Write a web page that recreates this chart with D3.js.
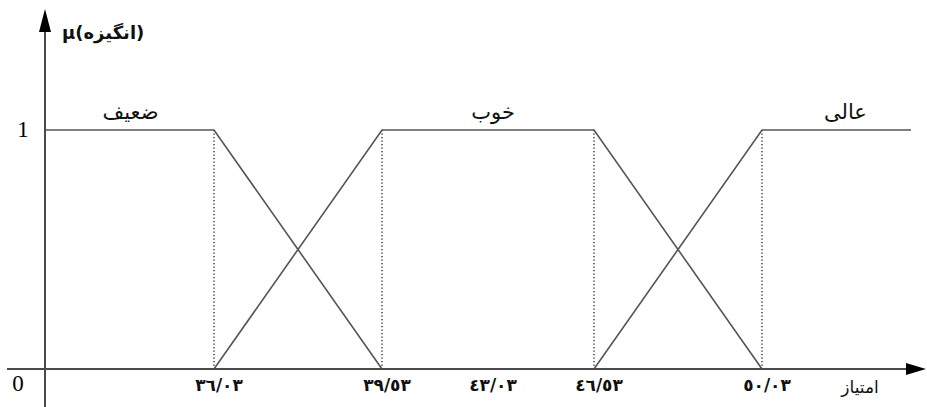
<!DOCTYPE html>
<html>
<head>
<meta charset="utf-8">
<script src="https://cdn.jsdelivr.net/npm/d3@7"></script>
<style>
  html, body { margin: 0; padding: 0; background: #fff; }
  svg { display: block; }
</style>
</head>
<body>
<svg id="chart" width="927" height="407"></svg>
<script>
// ---- data ----
const breakpoints = [36.03, 39.53, 43.03, 46.53, 50.03];
const tickLabels = ["٣٦/٠٣", "٣٩/٥٣", "٤٣/٠٣", "٤٦/٥٣", "٥٠/٠٣"];
const dottedAt = [36.03, 39.53, 46.53, 50.03];
const xMin = 32.53, xMax = 53.1;
const weakX = [xMin, 36.03, 39.53];
const weakY = [1, 1, 0];
const goodX = [36.03, 39.53, 46.53, 50.03];
const goodY = [0, 1, 1, 0];
const highX = [46.53, 50.03, xMax];
const highY = [0, 1, 1];
const setNames = ["ضعیف", "خوب", "عالی"];
const setLabelAt = [34.3, 43.2, 51.75];
const yTicks = [0, 1];
const yTitle = "μ(انگیزه)";
const xTitle = "امتیاز";

// ---- layout ----
const W = 927, H = 407;
const x0 = 45, yBase = 369, yTop = 130;
const svg = d3.select("#chart");

// schematic (piecewise linear) x scale, as in the original drawing
const x = d3.scaleLinear()
  .domain([xMin, 36.03, 39.53, 46.53, 50.03, xMax])
  .range([x0, 214, 382, 594, 762, 911]);
const y = d3.scaleLinear().domain([0, 1]).range([yBase, yTop]);

const axisColor = "#4a4a4a";
const lineColor = "#555";

// dotted verticals
svg.append("g").selectAll("line").data(dottedAt).join("line")
  .attr("x1", d => x(d)).attr("x2", d => x(d))
  .attr("y1", y(1)).attr("y2", y(0))
  .attr("stroke", "#222").attr("stroke-width", 1.3)
  .attr("stroke-dasharray", "1.3,2.2");

// membership functions
const line = d3.line().x(d => x(d[0])).y(d => y(d[1]));
const series = [[weakX, weakY], [goodX, goodY], [highX, highY]];
svg.append("g").selectAll("path").data(series).join("path")
  .attr("d", s => line(d3.zip(s[0], s[1])))
  .attr("fill", "none").attr("stroke", lineColor).attr("stroke-width", 1.6);

// axes
svg.append("line").attr("x1", x0).attr("x2", x0).attr("y1", H).attr("y2", 30)
  .attr("stroke", axisColor).attr("stroke-width", 2);
svg.append("path").attr("d", `M${x0},9 L${x0 - 6},32 L${x0 + 6},32 Z`).attr("fill", "#000");
svg.append("line").attr("x1", 7).attr("x2", 908).attr("y1", yBase).attr("y2", yBase)
  .attr("stroke", axisColor).attr("stroke-width", 2);
svg.append("path").attr("d", `M926,${yBase} L906,${yBase - 6} L906,${yBase + 6} Z`).attr("fill", "#000");

// y tick labels
svg.append("g").selectAll("text").data(yTicks).join("text")
  .attr("x", d => d === 0 ? 18 : 23)
  .attr("y", d => d === 0 ? y(d) + 22 : y(d) + 7)
  .attr("text-anchor", "middle")
  .attr("font-family", "Liberation Serif, serif").attr("font-size", 23)
  .text(d => d);

// x tick labels
svg.append("g").selectAll("text").data(breakpoints).join("text")
  .attr("x", (d, i) => x(d) + 5)
  .attr("y", yBase + 22)
  .attr("text-anchor", "middle")
  .attr("font-family", "DejaVu Sans, sans-serif").attr("font-weight", "bold").attr("font-size", 17)
  .attr("letter-spacing", 1)
  .attr("fill", "#111")
  .text((d, i) => tickLabels[i]);

// set names
svg.append("g").selectAll("text").data(setNames).join("text")
  .attr("x", (d, i) => x(setLabelAt[i]))
  .attr("y", y(1) - 11)
  .attr("text-anchor", "middle")
  .attr("font-family", "DejaVu Sans, sans-serif").attr("font-size", 21)
  .attr("fill", "#111")
  .text(d => d);

// titles
svg.append("text").attr("x", 62).attr("y", 39)
  .attr("font-family", "DejaVu Sans, sans-serif").attr("font-weight", "bold").attr("font-size", 18)
  .attr("fill", "#111")
  .text(yTitle);
svg.append("text").attr("x", 860).attr("y", 393).attr("text-anchor", "middle")
  .attr("font-family", "DejaVu Sans, sans-serif").attr("font-size", 17)
  .attr("fill", "#111")
  .text(xTitle);
</script>
</body>
</html>
